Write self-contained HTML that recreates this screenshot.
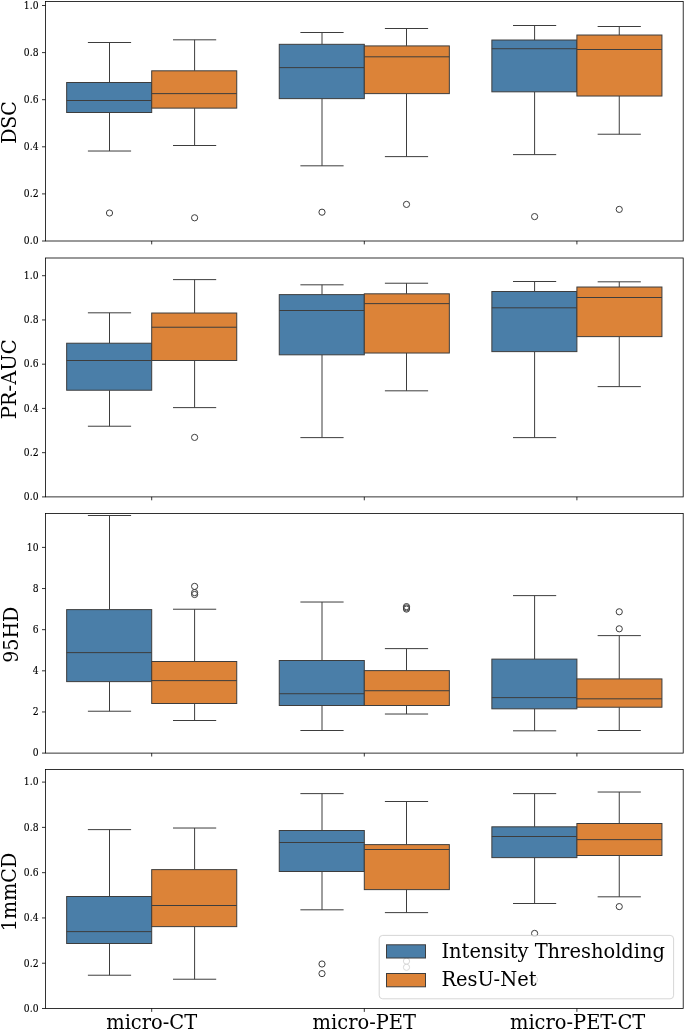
<!DOCTYPE html>
<html lang="en">
<head>
<meta charset="utf-8">
<title>Segmentation metrics boxplots</title>
<style>
html,body{margin:0;padding:0;background:#fff;overflow:hidden;}
svg{display:block;}
text{font-family:"DejaVu Serif", "Liberation Serif", serif;fill:#000;filter:opacity(1);}
.tk{font-size:9.7px;text-anchor:end;stroke:#000;stroke-width:0.12px;}
.big{font-size:19.45px;}
.ln{stroke:#3d3d3d;stroke-width:1.0;fill:none;}
.bx{stroke:#3d3d3d;stroke-width:1.0;}
.sp{stroke:#000;stroke-width:0.8;fill:none;}
.fl{stroke:#3d3d3d;stroke-width:1;fill:none;}
</style>
</head>
<body>
<svg width="685" height="1031" viewBox="0 0 685 1031">
<rect x="0" y="0" width="685" height="1031" fill="#ffffff"/>
<g id="panel1">
<path class="ln" d="M109.5 82.5V42.5M109.5 112.5V151.02M87.9 42.5H131.1M87.9 151.02H131.1"/>
<rect class="bx" x="66.66" y="82.5" width="85.04" height="30" fill="#4a7ea8"/>
<path class="ln" d="M66.66 100.5H151.7"/>
<circle class="fl" cx="109.5" cy="213" r="3.1"/>
<path class="ln" d="M194.6 70.82V39.82M194.6 108.12V145.5M173 39.82H216.2M173 145.5H216.2"/>
<rect class="bx" x="151.7" y="70.82" width="85.04" height="37.3" fill="#dc8338"/>
<path class="ln" d="M151.7 93.62H236.74"/>
<circle class="fl" cx="194.6" cy="217.8" r="3.1"/>
<path class="ln" d="M322 44.32V32.5M322 98.62V165.82M300.4 32.5H343.6M300.4 165.82H343.6"/>
<rect class="bx" x="279.26" y="44.32" width="85.04" height="54.3" fill="#4a7ea8"/>
<path class="ln" d="M279.26 67.62H364.3"/>
<circle class="fl" cx="322" cy="212.2" r="3.1"/>
<path class="ln" d="M406.5 45.92V28.5M406.5 93.62V156.62M384.9 28.5H428.1M384.9 156.62H428.1"/>
<rect class="bx" x="364.3" y="45.92" width="85.04" height="47.7" fill="#dc8338"/>
<path class="ln" d="M364.3 56.82H449.34"/>
<circle class="fl" cx="406.5" cy="204.4" r="3.1"/>
<path class="ln" d="M534.6 40.02V25.5M534.6 91.82V154.62M513 25.5H556.2M513 154.62H556.2"/>
<rect class="bx" x="491.86" y="40.02" width="85.04" height="51.8" fill="#4a7ea8"/>
<path class="ln" d="M491.86 48.72H576.9"/>
<circle class="fl" cx="534.6" cy="216.6" r="3.1"/>
<path class="ln" d="M619.25 35.02V26.5M619.25 96.02V134.22M597.65 26.5H640.85M597.65 134.22H640.85"/>
<rect class="bx" x="576.9" y="35.02" width="85.04" height="61" fill="#dc8338"/>
<path class="ln" d="M576.9 49.5H661.94"/>
<circle class="fl" cx="619.25" cy="209.4" r="3.1"/>
<rect class="sp" x="45.4" y="1.5" width="637.8" height="239.5"/>
<path class="sp" d="M42 5.5H45.4M42 52.6H45.4M42 99.7H45.4M42 146.8H45.4M42 193.9H45.4M42 241H45.4M151.7 241V244.4M364.3 241V244.4M576.9 241V244.4"/>
<text class="tk" transform="translate(38.5 8.8) scale(0.95 1.2)">1.0</text>
<text class="tk" transform="translate(38.5 55.9) scale(0.95 1.2)">0.8</text>
<text class="tk" transform="translate(38.5 103) scale(0.95 1.2)">0.6</text>
<text class="tk" transform="translate(38.5 150.1) scale(0.95 1.2)">0.4</text>
<text class="tk" transform="translate(38.5 197.2) scale(0.95 1.2)">0.2</text>
<text class="tk" transform="translate(38.5 244.3) scale(0.95 1.2)">0.0</text>
<text class="big" text-anchor="middle" transform="translate(15.8 122.5) rotate(-90) scale(0.976 1.05)">DSC</text>
</g>
<g id="panel2">
<path class="ln" d="M109.5 343.22V312.82M109.5 390.22V426.22M87.9 312.82H131.1M87.9 426.22H131.1"/>
<rect class="bx" x="66.66" y="343.22" width="85.04" height="47" fill="#4a7ea8"/>
<path class="ln" d="M66.66 360.5H151.7"/>
<path class="ln" d="M194.6 313.02V279.62M194.6 360.5V407.62M173 279.62H216.2M173 407.62H216.2"/>
<rect class="bx" x="151.7" y="313.02" width="85.04" height="47.48" fill="#dc8338"/>
<path class="ln" d="M151.7 327.22H236.74"/>
<circle class="fl" cx="194.6" cy="437.4" r="3.1"/>
<path class="ln" d="M322 294.62V284.82M322 354.82V437.62M300.4 284.82H343.6M300.4 437.62H343.6"/>
<rect class="bx" x="279.26" y="294.62" width="85.04" height="60.2" fill="#4a7ea8"/>
<path class="ln" d="M279.26 310.5H364.3"/>
<path class="ln" d="M406.5 293.82V283.22M406.5 353.02V390.82M384.9 283.22H428.1M384.9 390.82H428.1"/>
<rect class="bx" x="364.3" y="293.82" width="85.04" height="59.2" fill="#dc8338"/>
<path class="ln" d="M364.3 303.62H449.34"/>
<path class="ln" d="M534.6 291.5V281.5M534.6 351.62V437.62M513 281.5H556.2M513 437.62H556.2"/>
<rect class="bx" x="491.86" y="291.5" width="85.04" height="60.12" fill="#4a7ea8"/>
<path class="ln" d="M491.86 307.82H576.9"/>
<path class="ln" d="M619.25 287.02V281.82M619.25 336.62V386.62M597.65 281.82H640.85M597.65 386.62H640.85"/>
<rect class="bx" x="576.9" y="287.02" width="85.04" height="49.6" fill="#dc8338"/>
<path class="ln" d="M576.9 297.5H661.94"/>
<rect class="sp" x="45.4" y="258" width="637.8" height="238.9"/>
<path class="sp" d="M42 275.7H45.4M42 319.94H45.4M42 364.18H45.4M42 408.42H45.4M42 452.66H45.4M42 496.9H45.4M151.7 496.9V500.3M364.3 496.9V500.3M576.9 496.9V500.3"/>
<text class="tk" transform="translate(38.5 279) scale(0.95 1.2)">1.0</text>
<text class="tk" transform="translate(38.5 323.24) scale(0.95 1.2)">0.8</text>
<text class="tk" transform="translate(38.5 367.48) scale(0.95 1.2)">0.6</text>
<text class="tk" transform="translate(38.5 411.72) scale(0.95 1.2)">0.4</text>
<text class="tk" transform="translate(38.5 455.96) scale(0.95 1.2)">0.2</text>
<text class="tk" transform="translate(38.5 500.2) scale(0.95 1.2)">0.0</text>
<text class="big" text-anchor="middle" transform="translate(15.8 379.25) rotate(-90) scale(1.007 1.05)">PR-AUC</text>
</g>
<g id="panel3">
<path class="ln" d="M109.5 609.62V515.5M109.5 681.62V711.22M87.9 515.5H131.1M87.9 711.22H131.1"/>
<rect class="bx" x="66.66" y="609.62" width="85.04" height="72" fill="#4a7ea8"/>
<path class="ln" d="M66.66 652.62H151.7"/>
<path class="ln" d="M194.6 661.5V609.22M194.6 703.5V720.5M173 609.22H216.2M173 720.5H216.2"/>
<rect class="bx" x="151.7" y="661.5" width="85.04" height="42" fill="#dc8338"/>
<path class="ln" d="M151.7 680.62H236.74"/>
<circle class="fl" cx="194.6" cy="586.4" r="3.1"/>
<circle class="fl" cx="194.6" cy="592.6" r="3.1"/>
<circle class="fl" cx="194.6" cy="594.5" r="3.1"/>
<path class="ln" d="M322 660.5V602.02M322 705.5V730.5M300.4 602.02H343.6M300.4 730.5H343.6"/>
<rect class="bx" x="279.26" y="660.5" width="85.04" height="45" fill="#4a7ea8"/>
<path class="ln" d="M279.26 693.72H364.3"/>
<path class="ln" d="M406.5 670.62V648.62M406.5 705.5V714.02M384.9 648.62H428.1M384.9 714.02H428.1"/>
<rect class="bx" x="364.3" y="670.62" width="85.04" height="34.88" fill="#dc8338"/>
<path class="ln" d="M364.3 690.72H449.34"/>
<circle class="fl" cx="406.5" cy="606.6" r="3.1"/>
<circle class="fl" cx="406.5" cy="607.9" r="3.1"/>
<circle class="fl" cx="406.5" cy="609.1" r="3.1"/>
<path class="ln" d="M534.6 659.12V595.62M534.6 708.82V730.82M513 595.62H556.2M513 730.82H556.2"/>
<rect class="bx" x="491.86" y="659.12" width="85.04" height="49.7" fill="#4a7ea8"/>
<path class="ln" d="M491.86 697.62H576.9"/>
<path class="ln" d="M619.25 678.92V635.62M619.25 707.22V730.5M597.65 635.62H640.85M597.65 730.5H640.85"/>
<rect class="bx" x="576.9" y="678.92" width="85.04" height="28.3" fill="#dc8338"/>
<path class="ln" d="M576.9 698.82H661.94"/>
<circle class="fl" cx="619.25" cy="611.8" r="3.1"/>
<circle class="fl" cx="619.25" cy="628.8" r="3.1"/>
<rect class="sp" x="45.4" y="513.5" width="637.8" height="239.6"/>
<path class="sp" d="M42 547.4H45.4M42 588.54H45.4M42 629.68H45.4M42 670.82H45.4M42 711.96H45.4M42 753.1H45.4M151.7 753.1V756.5M364.3 753.1V756.5M576.9 753.1V756.5"/>
<text class="tk" transform="translate(38.5 550.7) scale(0.95 1.2)">10</text>
<text class="tk" transform="translate(38.5 591.84) scale(0.95 1.2)">8</text>
<text class="tk" transform="translate(38.5 632.98) scale(0.95 1.2)">6</text>
<text class="tk" transform="translate(38.5 674.12) scale(0.95 1.2)">4</text>
<text class="tk" transform="translate(38.5 715.26) scale(0.95 1.2)">2</text>
<text class="tk" transform="translate(38.5 756.4) scale(0.95 1.2)">0</text>
<text class="big" text-anchor="middle" transform="translate(18.2 634.7) rotate(-90) scale(0.98 1.05)">95HD</text>
</g>
<g id="panel4">
<path class="ln" d="M109.5 896.5V829.62M109.5 943.5V975.22M87.9 829.62H131.1M87.9 975.22H131.1"/>
<rect class="bx" x="66.66" y="896.5" width="85.04" height="47" fill="#4a7ea8"/>
<path class="ln" d="M66.66 931.62H151.7"/>
<path class="ln" d="M194.6 869.62V828.02M194.6 926.62V979.22M173 828.02H216.2M173 979.22H216.2"/>
<rect class="bx" x="151.7" y="869.62" width="85.04" height="57" fill="#dc8338"/>
<path class="ln" d="M151.7 905.5H236.74"/>
<path class="ln" d="M322 830.5V793.62M322 871.5V909.82M300.4 793.62H343.6M300.4 909.82H343.6"/>
<rect class="bx" x="279.26" y="830.5" width="85.04" height="41" fill="#4a7ea8"/>
<path class="ln" d="M279.26 842.5H364.3"/>
<circle class="fl" cx="322" cy="964" r="3.1"/>
<circle class="fl" cx="322" cy="973.6" r="3.1"/>
<path class="ln" d="M406.5 844.62V801.5M406.5 889.62V912.62M384.9 801.5H428.1M384.9 912.62H428.1"/>
<rect class="bx" x="364.3" y="844.62" width="85.04" height="45" fill="#dc8338"/>
<path class="ln" d="M364.3 849.5H449.34"/>
<circle class="fl" cx="406.5" cy="961.1" r="3.1"/>
<circle class="fl" cx="406.5" cy="967.3" r="3.1"/>
<path class="ln" d="M534.6 826.82V793.62M534.6 857.62V903.5M513 793.62H556.2M513 903.5H556.2"/>
<rect class="bx" x="491.86" y="826.82" width="85.04" height="30.8" fill="#4a7ea8"/>
<path class="ln" d="M491.86 836.5H576.9"/>
<circle class="fl" cx="534.6" cy="933.4" r="3.1"/>
<circle class="fl" cx="534.6" cy="979.8" r="3.1"/>
<path class="ln" d="M619.25 823.5V792.02M619.25 855.5V896.82M597.65 792.02H640.85M597.65 896.82H640.85"/>
<rect class="bx" x="576.9" y="823.5" width="85.04" height="32" fill="#dc8338"/>
<path class="ln" d="M576.9 839.62H661.94"/>
<circle class="fl" cx="619.25" cy="906.6" r="3.1"/>
<rect class="sp" x="45.4" y="769.5" width="637.8" height="239"/>
<path class="sp" d="M42 782.1H45.4M42 827.38H45.4M42 872.66H45.4M42 917.94H45.4M42 963.22H45.4M42 1008.5H45.4M151.7 1008.5V1011.9M364.3 1008.5V1011.9M576.9 1008.5V1011.9"/>
<text class="tk" transform="translate(38.5 785.4) scale(0.95 1.2)">1.0</text>
<text class="tk" transform="translate(38.5 830.68) scale(0.95 1.2)">0.8</text>
<text class="tk" transform="translate(38.5 875.96) scale(0.95 1.2)">0.6</text>
<text class="tk" transform="translate(38.5 921.24) scale(0.95 1.2)">0.4</text>
<text class="tk" transform="translate(38.5 966.52) scale(0.95 1.2)">0.2</text>
<text class="tk" transform="translate(38.5 1011.8) scale(0.95 1.2)">0.0</text>
<text class="big" text-anchor="middle" transform="translate(16 891.9) rotate(-90) scale(0.985 1.05)">1mmCD</text>
</g>
<g id="legend">
<rect x="379.2" y="935.4" width="294.4" height="63.4" rx="3.5" ry="3.5" fill="#ffffff" fill-opacity="0.8" stroke="#cccccc" stroke-opacity="0.8" stroke-width="1"/>
<rect class="bx" x="386.5" y="944.8" width="39" height="13.2" fill="#4a7ea8"/>
<rect class="bx" x="386.5" y="973.5" width="39" height="13.3" fill="#dc8338"/>
<text class="big" transform="translate(441.4 957.6) scale(1 1.05)">Intensity Thresholding</text>
<text class="big" transform="translate(441.4 986.4) scale(1 1.05)">ResU-Net</text>
</g>
<g id="xlabels">
<text class="big" text-anchor="middle" transform="translate(151.7 1029.3) scale(1 1.05)">micro-CT</text>
<text class="big" text-anchor="middle" transform="translate(364.3 1029.3) scale(1 1.05)">micro-PET</text>
<text class="big" text-anchor="middle" transform="translate(577.6 1029.3) scale(1 1.05)">micro-PET-CT</text>
</g>
</svg>
</body>
</html>
